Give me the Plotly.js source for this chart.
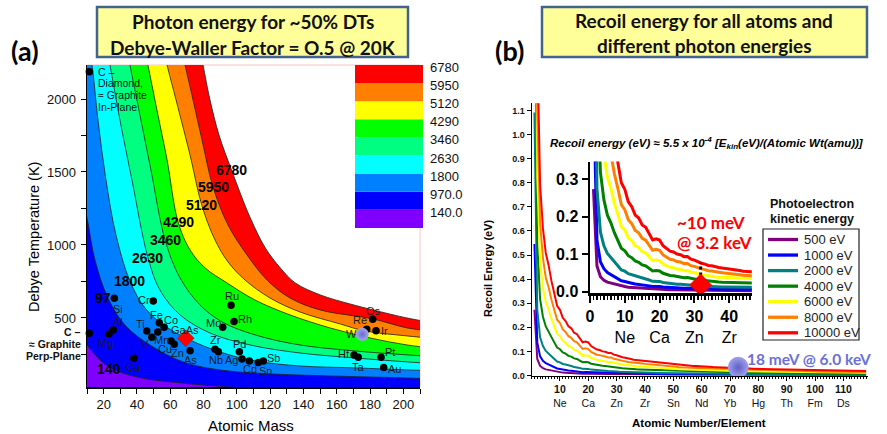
<!DOCTYPE html>
<html><head><meta charset="utf-8">
<script src="https://cdn.plot.ly/plotly-3.0.1.min.js"></script>
<style>html,body{margin:0;padding:0;background:#fff;}#plot{width:887px;height:434px;}</style>
</head><body><div id="plot"></div>
<script>
// ================= Panel (a) data =================
const contourLevels = [140, 970, 1800, 2630, 3460, 4290, 5120, 5950, 6780];
const levelText = ['140.0', '970.0', '1800', '2630', '3460', '4290', '5120', '5950', '6780'];
// contour boundary lines: atomic mass / Debye temperature (K)
const line140M = [5.8, 10.0, 17.8, 23.2, 32.8, 46.0, 65.9, 86.9, 101.9, 113.9];
const line140T = [384, 315, 212, 164, 117, 82, 55, 34, 21, 7];
const line970M = [5.8, 10.0, 14.8, 22.6, 32.8, 47.8, 67.7, 89.9, 119.9, 155.9, 202.2, 222.0];
const line970T = [1377, 1185, 897, 637, 452, 315, 199, 144, 117, 103, 89, 82];
const line1800M = [11.2, 13.0, 16.6, 21.4, 27.4, 35.8, 44.8, 56.9, 71.9, 89.9, 110.9, 137.9, 171.0, 202.2, 222.0];
const line1800T = [2336, 2233, 1856, 1445, 1069, 753, 569, 445, 349, 267, 206, 171, 158, 144, 137];
const line2630M = [22.0, 23.8, 29.8, 37.0, 46.6, 53.8, 65.9, 83.9, 107.9, 137.9, 171.0, 202.2, 222.0];
const line2630T = [2336, 2233, 1856, 1445, 914, 692, 521, 397, 315, 260, 226, 199, 185];
const line3460M = [34.0, 35.8, 41.8, 48.4, 56.9, 65.9, 77.9, 91.1, 110.9, 137.9, 171.0, 202.2, 222.0];
const line3460T = [2336, 2233, 1890, 1514, 1034, 774, 589, 473, 384, 315, 274, 247, 233];
const line4290M = [44.8, 46.6, 52.0, 58.1, 64.7, 71.9, 80.9, 94.1, 110.9, 131.9, 155.9, 180.0, 202.2, 222.0];
const line4290T = [2336, 2233, 1925, 1582, 1158, 966, 843, 740, 623, 521, 432, 363, 315, 288];
const line5120M = [56.3, 58.1, 63.5, 71.9, 78.9, 86.9, 94.7, 104.9, 119.9, 137.9, 162.0, 177.0, 202.2, 222.0];
const line5120T = [2336, 2233, 1993, 1616, 1274, 1034, 884, 760, 637, 541, 459, 411, 377, 356];
const line5950M = [67.1, 68.9, 73.7, 79.1, 85.7, 94.7, 106.1, 118.1, 131.9, 150.0, 181.8, 202.2, 222.0];
const line5950T = [2336, 2233, 1993, 1719, 1397, 1137, 932, 760, 637, 555, 493, 432, 404];
const line6780M = [77.9, 79.7, 83.9, 89.3, 96.8, 108.1, 117.1, 126.1, 135.1, 150.1, 168.0, 181.8, 202.2, 222.0];
const line6780T = [2336, 2233, 1993, 1753, 1514, 1185, 980, 843, 740, 658, 596, 555, 500, 459];
// contour label positions (mass, K)
const labelM = [23.2, 19.6, 35.8, 46.6, 56.9, 64.7, 78.9, 85.7, 96.8];
const labelT = [147, 637, 753, 914, 1034, 1158, 1274, 1399, 1514];
const labelStr = ['140', '97', '1800', '2630', '3460', '4290', '5120', '5950', '6780'];
// elements (mass, Debye temperature) as placed in the picture
const elemNames = ['Be','Mg','Al','Si','Ca','Ti','V','Cr','Mn','Fe','Co','Cu','Zn','As','Zr','Nb','Mo','Ru','Rh','Pd','Ag','Cd','Sn','Sb','Hf','Ta','Re','Os','Ir','Pt','Au'];
const elemMass = [8.4,23.2,25.8,26.4,38.2,45.9,48.9,49.8,52.5,53.4,56.3,60.5,62.4,71.9,86.9,88.9,91.5,96.5,98.3,101.5,103.1,107.5,112.9,115.9,170.4,172.9,178.0,181.6,183.6,186.6,188.2];
const elemTheta = [1416,390,418,635,224,411,368,616,404,468,436,342,320,276,286,269,436,587,475,269,219,205,194,205,247,231,423,491,413,231,160];
const carbonMass = [11.4, 11.4];
const carbonTheta = [2187, 395];
const gaasMass = [69.3], gaasTheta = [361];
const tungstenMass = [175.3], tungstenTheta = [388];
// label offsets in px (dx right, dy down) -- style
const elemLabelDX = [11,-3.5,4.2,3.7,0,-6.7,-7.2,-9.3,4,-3,7,-6,3.2,0.5,0.3,-2,-9.7,0.7,11,0.4,-10.3,0.4,6.7,10.4,-10,0.4,-7,0.3,8,8.5,10.3];
const elemLabelDY = [6,8.5,-8,10.7,9.2,-7.3,6.4,-1,8,-7.2,-7.6,7.8,8.4,9,-9.3,8.3,-4,-9,-2.2,-7.7,1,8,8.3,-3.5,-1,9.7,-9,-8.5,0.3,-5.3,1.3];
const bandColors = ['#8000FF','#0000FF','#0080FF','#00FFFF','#00FF80','#00FF00','#FFFF00','#FF8000','#FF0000'];

// ================= Panel (b) data =================
const atomicWeights = [1.008,4.003,6.94,9.012,10.81,12.011,14.007,15.999,18.998,20.180,
 22.990,24.305,26.982,28.085,30.974,32.06,35.45,39.948,39.098,40.078,
 44.956,47.867,50.942,51.996,54.938,55.845,58.933,58.693,63.546,65.38,
 69.723,72.630,74.922,78.971,79.904,83.798,85.468,87.62,88.906,91.224,
 92.906,95.95,98,101.07,102.91,106.42,107.87,112.41,114.82,118.71,
 121.76,127.60,126.90,131.29,132.91,137.33,138.91,140.12,140.91,144.24,
 145,150.36,151.96,157.25,158.93,162.50,164.93,167.26,168.93,173.05,
 174.97,178.49,180.95,183.84,186.21,190.23,192.22,195.08,196.97,200.59,
 204.38,207.2,208.98,209,210,222,223,226,227,232.04,
 231.04,238.03,237,244,243,247,247,251,252,257,
 258,259,262,267,268,269,270,269,278,281,
 282,285,286,289,290,293,294,294];
const kineticEnergies = [500, 1000, 2000, 4000, 6000, 8000, 10000];
const seriesNames = ['500 eV','1000 eV','2000 eV','4000 eV','6000 eV','8000 eV','10000 eV'];
const seriesColors = ['#800080','#0000FF','#008080','#008000','#FFFF00','#FF8000','#FF0000'];
const recoilCoef = 5.5e-4; // from the chart's own formula
const mainTickZ = [10,20,30,40,50,60,70,80,90,100,110];
const mainTickEl = ['Ne','Ca','Zn','Zr','Sn','Nd','Yb','Hg','Th','Fm','Ds'];
const insetTickZ = [0,10,20,30,40];
const insetTickEl = ['','Ne','Ca','Zn','Zr'];
const gaasPointZ = [31.8], gaasPointE = [0.018];
const gaasLineZ = [31.8, 31.8], gaasLineE = [0.043, 0.077];
const wPointZ = [72.9], wPointE = [0.034];

// ================= Build =================
const W = 887, H = 434;
const fx = p => p / W, fy = p => 1 - p / H;
const xrA = [10, 210], yrA = [27, 2233];
const FONT = 'Arial, "Liberation Sans", sans-serif';
const NARROW = '"Liberation Sans Narrow", "Arial Narrow", Arial, sans-serif';
const CAL = 'Lato, Carlito, "Open Sans", sans-serif';

const lines = [[line140M,line140T],[line970M,line970T],[line1800M,line1800T],[line2630M,line2630T],
  [line3460M,line3460T],[line4290M,line4290T],[line5120M,line5120T],[line5950M,line5950T],[line6780M,line6780T]];

function closedBand(M, T) {
  const x = M.slice(), y = T.slice();
  const n = M.length;
  x.push(M[n-1] + (M[n-1]-M[n-2]) * 2); y.push(T[n-1] + (T[n-1]-T[n-2]) * 2);
  const xl = xrA[0] - 60, xh = xrA[1] + 60, yl = yrA[0] - 400, yh = yrA[1] + 400;
  if (M[n-1] >= xrA[1]) { x.push(xh); y.push(yl); }
  x.push(xl); y.push(yl);
  if (T[0] >= yrA[1]) { x.push(xl); y.push(yh); x.push(M[0] - (M[1]-M[0]) * 2); y.push(T[0] + (T[0]-T[1]) * 2); }
  else { x.push(M[0] - (M[1]-M[0]) * 2); y.push(T[0] - (T[1]-T[0]) * 2); }
  return {x, y};
}

const traces = [];
for (let i = contourLevels.length - 1; i >= 0; i--) {
  const b = closedBand(lines[i][0], lines[i][1]);
  traces.push({type:'scatter', mode:'lines', x:b.x, y:b.y, fill:'toself', fillcolor:bandColors[i],
    line:{width:0, shape:'spline', smoothing:1}, xaxis:'x', yaxis:'y', hoverinfo:'skip'});
}
for (let i = 0; i < contourLevels.length; i++) {
  traces.push({type:'scatter', mode:'lines', x:lines[i][0], y:lines[i][1],
    line:{width:0.8, color:'#222', shape:'spline', smoothing:1}, xaxis:'x', yaxis:'y', hoverinfo:'skip'});
}
traces.push({type:'scatter', mode:'markers', x:elemMass.concat(carbonMass), y:elemTheta.concat(carbonTheta),
  marker:{size:7.5, color:'#000'}, cliponaxis:false, xaxis:'x', yaxis:'y'});
traces.push({type:'scatter', mode:'markers', x:gaasMass, y:gaasTheta,
  marker:{size:13, symbol:'diamond', color:'#FF0000', line:{width:0.5,color:'#c00'}}, cliponaxis:false, xaxis:'x', yaxis:'y'});
traces.push({type:'scatter', mode:'markers', x:tungstenMass, y:tungstenTheta,
  marker:{size:13, color:'#A6A6F0', gradient:{type:'radial', color:'#6A6AC8'}, line:{width:0}}, cliponaxis:false, xaxis:'x', yaxis:'y'});

// panel (b)
const zVals = atomicWeights.map((a, i) => i + 1);
kineticEnergies.forEach((ek, k) => {
  const yv = atomicWeights.map(a => recoilCoef * ek / a);
  traces.push({type:'scatter', mode:'lines', x:zVals, y:yv, line:{color:seriesColors[k], width:2},
    xaxis:'x2', yaxis:'y2', hoverinfo:'skip'});
});
kineticEnergies.forEach((ek, k) => {
  const yv = atomicWeights.map(a => recoilCoef * ek / a);
  traces.push({type:'scatter', mode:'lines', x:zVals, y:yv, line:{color:seriesColors[k], width:3},
    xaxis:'x3', yaxis:'y3', hoverinfo:'skip'});
});
traces.push({type:'scatter', mode:'lines', x:gaasLineZ, y:gaasLineE, line:{color:'#000', width:3, dash:'dot'}, xaxis:'x3', yaxis:'y3'});
traces.push({type:'scatter', mode:'markers', x:gaasPointZ, y:gaasPointE,
  marker:{size:17, symbol:'diamond', color:'#FF0000', line:{width:0.5,color:'#c00'}}, cliponaxis:false, xaxis:'x3', yaxis:'y3'});
traces.push({type:'scatter', mode:'markers', x:wPointZ, y:wPointE,
  marker:{size:21, color:'#A0A0F0', gradient:{type:'radial', color:'#6060C0'}, line:{width:0}}, cliponaxis:false, xaxis:'x2', yaxis:'y2'});

// ---------- annotations ----------
const ann = [];
function pa(px, py, text, opt) {
  ann.push(Object.assign({xref:'paper', yref:'paper', x:fx(px), y:fy(py), text:text, showarrow:false,
    xanchor:'center', yanchor:'middle', font:{family:FONT, size:12, color:'#000'}}, opt || {}));
}
pa(252.5, 21.5, '<b>Photon energy for ~50% DTs</b>', {font:{family:CAL, size:19, color:'#111'}});
pa(252.5, 47, '<b>Debye-Waller Factor = O.5 @ 20K</b>', {font:{family:CAL, size:19, color:'#111'}});
pa(704, 21, '<b>Recoil energy for all atoms and</b>', {font:{family:CAL, size:19, color:'#111'}});
pa(704, 46, '<b>different photon energies</b>', {font:{family:CAL, size:19, color:'#111'}});
pa(24.5, 51, '<b>(a)</b>', {font:{family:CAL, size:27, color:'#000'}});
pa(509, 51, '<b>(b)</b>', {font:{family:CAL, size:27, color:'#000'}});
pa(34, 237, 'Debye Temperature (K)', {textangle:-90, font:{family:FONT, size:14.5, color:'#000'}});
pa(251, 425, 'Atomic Mass', {font:{family:FONT, size:15, color:'#000'}});
pa(699, 423, '<b>Atomic Number/Element</b>', {font:{family:FONT, size:11.5, color:'#000'}});
pa(488, 268, '<b>Recoil Energy (eV)</b>', {textangle:-90, font:{family:FONT, size:11, color:'#000'}});
const legTop = 65, legStep = 18.1;
for (let i = 0; i < contourLevels.length; i++) {
  const row = contourLevels.length - 1 - i;
  pa(428, legTop + row * legStep + 2.5, levelText[i], {xanchor:'left', font:{family:FONT, size:13, color:'#111'}});
}
['C –', 'Diamond,', '≈ Graphite', 'In-Plane'].forEach((t, i) =>
  pa(95.5, 71.7 + i * 11.7, t, {xanchor:'left', font:{family:NARROW, size:10.5, color:'#111'}}));
['C –', '≈ Graphite', 'Perp-Plane'].forEach((t, i) =>
  pa(82.5, 332 + i * 12, '<b>' + t + '</b>', {xanchor:'right', font:{family:NARROW, size:10.5, color:'#111'}}));
elemNames.forEach((nm, i) => ann.push({xref:'x', yref:'y', x:elemMass[i], y:elemTheta[i], text:nm, showarrow:false,
  xshift:elemLabelDX[i], yshift:-elemLabelDY[i], font:{family:NARROW, size:11, color:'#1a1a1a'}}));
ann.push({xref:'x', yref:'y', x:gaasMass[0], y:gaasTheta[0], text:'GaAs', showarrow:false, xshift:-1, yshift:8.6,
  font:{family:NARROW, size:11, color:'#1a1a1a'}});
ann.push({xref:'x', yref:'y', x:tungstenMass[0], y:tungstenTheta[0], text:'W', showarrow:false, xshift:-10.3, yshift:0,
  font:{family:NARROW, size:11, color:'#1a1a1a'}});
labelStr.forEach((t, i) => ann.push({xref:'x', yref:'y', x:labelM[i], y:labelT[i], text:'<b>' + t + '</b>', showarrow:false,
  font:{family:FONT, size:14, color:'#000'}}));
pa(548, 143, '<b><i>Recoil energy (eV) ≈ 5.5 x 10<sup>-4</sup> [E<sub>kin</sub>(eV)/(Atomic Wt(amu))]</i></b>',
  {xanchor:'left', font:{family:FONT, size:11.5, color:'#000'}});
pa(711, 222, '<b>~10 meV</b>', {font:{family:CAL, size:17, color:'#FF0000'}});
pa(714, 243, '<b>@ 3.2 keV</b>', {font:{family:CAL, size:17, color:'#FF0000'}});
pa(745, 359, '<b>18 meV @ 6.0 keV</b>', {xanchor:'left', font:{family:CAL, size:15.5, color:'#6B70D8'}});
pa(768, 204.5, '<b>Photoelectron</b>', {xanchor:'left', font:{family:FONT, size:12.5, color:'#111'}});
pa(768, 219.5, '<b>kinetic energy</b>', {xanchor:'left', font:{family:FONT, size:12.5, color:'#111'}});
seriesNames.forEach((nm, k) => pa(801.5, 239.5 + k * 15.55, nm, {xanchor:'left', font:{family:FONT, size:13, color:'#222'}}));

// ---------- shapes ----------
const shapes = [];
function rectPx(x0, y0, x1, y1, fill, lc, lw) {
  shapes.push({type:'rect', xref:'paper', yref:'paper', x0:fx(x0), x1:fx(x1), y0:fy(y1), y1:fy(y0),
    fillcolor:fill, line:{color:lc, width:lw}, layer:'above'});
}
function linePx(x0, y0, x1, y1, c, w, layer) {
  shapes.push({type:'line', xref:'paper', yref:'paper', x0:fx(x0), x1:fx(x1), y0:fy(y0), y1:fy(y1),
    line:{color:c, width:w}, layer:layer || 'above'});
}
rectPx(97, 7, 408, 57, '#FFFF99', '#41638C', 2.5);
rectPx(542, 7, 867, 57, '#FFFF99', '#41638C', 2.5);
linePx(87, 65, 420, 65, '#F3C6C6', 1, 'below');
linePx(420, 65, 420, 387, '#F3C6C6', 1, 'below');
for (let i = 0; i < contourLevels.length; i++) {
  const row = contourLevels.length - 1 - i;
  rectPx(355, legTop + row * legStep, 423, legTop + (row + 1) * legStep, bandColors[i], 'rgba(0,0,0,0)', 0);
}
rectPx(763, 229, 859, 340, 'rgba(0,0,0,0)', '#222', 1.2);
seriesColors.forEach((c, k) => linePx(768, 239.5 + k * 15.55, 798, 239.5 + k * 15.55, c, 3.3));

const layout = {
  width: W, height: H, margin:{l:0, r:0, t:0, b:0}, paper_bgcolor:'#fff', plot_bgcolor:'rgba(0,0,0,0)',
  showlegend:false, annotations:ann, shapes:shapes,
  xaxis:{domain:[fx(87), fx(420)], range:xrA, anchor:'y', tickmode:'linear', tick0:0, dtick:20,
    ticks:'outside', ticklen:5, tickwidth:1, tickcolor:'#000', minor:{dtick:10, tick0:0, ticks:'outside', ticklen:5, tickcolor:'#000'},
    showline:true, linecolor:'#000', linewidth:1.5, showgrid:false, zeroline:false,
    tickfont:{family:FONT, size:13, color:'#111'}},
  yaxis:{domain:[fy(387), fy(65)], range:yrA, anchor:'x', tickmode:'linear', tick0:0, dtick:500,
    ticks:'outside', ticklen:5, tickwidth:1, tickcolor:'#000', minor:{dtick:250, tick0:0, ticks:'outside', ticklen:5, tickcolor:'#000'},
    showline:true, linecolor:'#000', linewidth:1.5, showgrid:false, zeroline:false, ticklabelstandoff:2,
    tickfont:{family:FONT, size:13, color:'#111'}},
  xaxis2:{domain:[fx(531.6), fx(867.5)], range:[0, 118.5], anchor:'y2', tickmode:'array', tickvals:mainTickZ,
    ticktext:mainTickZ.map((z, i) => '<b>' + z + '</b><br>' + mainTickEl[i]),
    ticks:'outside', ticklen:4, tickwidth:1, tickcolor:'#000', minor:{tickmode:'linear', dtick:1, tick0:0, ticks:'outside', ticklen:2.5, tickcolor:'#000'},
    showline:true, linecolor:'#000', linewidth:1, showgrid:false, zeroline:false,
    tickfont:{family:FONT, size:10.5, color:'#111'}},
  yaxis2:{domain:[fy(375.5), fy(103.2)], range:[0, 1.13], anchor:'x2', tickmode:'array',
    tickvals:[0,0.1,0.2,0.3,0.4,0.5,0.6,0.7,0.8,0.9,1.0,1.1],
    ticktext:['0.0','0.1','0.2','0.3','0.4','0.5','0.6','0.7','0.8','0.9','1.0','1.1'].map(s => '<b>' + s + '</b>'),
    ticks:'outside', ticklen:4, tickwidth:1, tickcolor:'#000',
    showline:true, linecolor:'#000', linewidth:1, showgrid:false, zeroline:false,
    tickfont:{family:FONT, size:9, color:'#111'}},
  xaxis3:{domain:[fx(590), fx(751.8)], range:[0, 46.5], anchor:'y3', tickmode:'array', tickvals:insetTickZ,
    ticktext:insetTickZ.map((z, i) => '<b>' + z + '</b>' + (insetTickEl[i] ? '<br>' + insetTickEl[i] : '')),
    ticks:'outside', ticklen:7, tickwidth:2, tickcolor:'#000', minor:{tickmode:'linear', dtick:1, tick0:0, ticks:'outside', ticklen:4, tickwidth:1.5, tickcolor:'#000'},
    showline:true, linecolor:'#000', linewidth:2.5, showgrid:false, zeroline:false,
    tickfont:{family:NARROW, size:16, color:'#000'}},
  yaxis3:{domain:[fy(293.2), fy(161.6)], range:[-0.004, 0.346], anchor:'x3', tickmode:'array',
    tickvals:[0,0.1,0.2,0.3], ticktext:['<b>0.0</b>','<b>0.1</b>','<b>0.2</b>','<b>0.3</b>'],
    ticks:'outside', ticklen:6, tickwidth:2, tickcolor:'#000',
    showline:true, linecolor:'#000', linewidth:2.5, showgrid:false, zeroline:false,
    tickfont:{family:NARROW, size:16, color:'#000'}}
};
Plotly.newPlot('plot', traces, layout, {staticPlot:true, displayModeBar:false});
</script></body></html>
